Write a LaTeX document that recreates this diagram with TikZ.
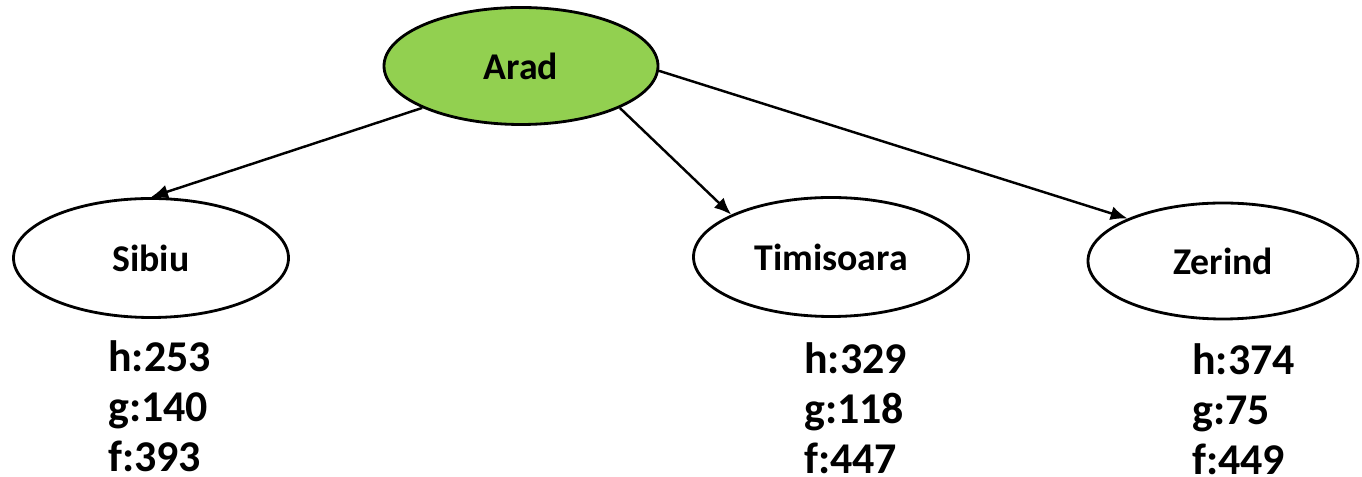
\documentclass[tikz,border=0pt]{standalone}
\usepackage{fontspec}
\setmainfont{Carlito}
\usepackage{tikz}
\usetikzlibrary{arrows.meta, positioning, shapes.geometric}
\definecolor{startgreen}{HTML}{92D050}

\begin{document}
\begin{tikzpicture}[
    >={Latex[length=0.34cm, width=0.28cm]},
    cnode/.style={draw, ellipse, line width=1.6pt, fill=#1, inner sep=0pt, minimum width=5.5cm, minimum height=2.38cm, font=\fontsize{21.5}{26}\selectfont\bfseries},
    cnode/.default=white,
    vals/.style={anchor=north west, inner sep=0pt, align=left, font=\fontsize{25}{28.5}\selectfont\bfseries},
    link/.style={draw, line width=1.4pt, ->},
]
    \useasboundingbox (0, 0) rectangle (27.24, -9.54);

    \node[cnode=startgreen, minimum width=5.48cm, minimum height=2.34cm] (arad) at (10.42, -1.32) {Arad};
    \node[cnode] (sibiu) at (3.02, -5.16) {Sibiu};
    \node[cnode] (timisoara) at (16.62, -5.14) {Timisoara};
    \node[cnode, minimum width=5.4cm, minimum height=2.32cm] (zerind) at (24.46, -5.22) {Zerind};

    % heuristic, cost so far, total
    \node[vals] (sibiuvals) at (2.16, -6.80) {h:253\\g:140\\f:393};
    \node[vals] (timisoaravals) at (16.08, -6.84) {h:329\\g:118\\f:447};
    \node[vals] (zerindvals) at (23.84, -6.86) {h:374\\g:75\\f:449};

    \draw[link] (arad.203) -- (sibiu.north);
    \draw[link] (arad.-23) -- (timisoara.157);
    \draw[link] (arad.-2) -- (zerind.156);
\end{tikzpicture}
\end{document}
